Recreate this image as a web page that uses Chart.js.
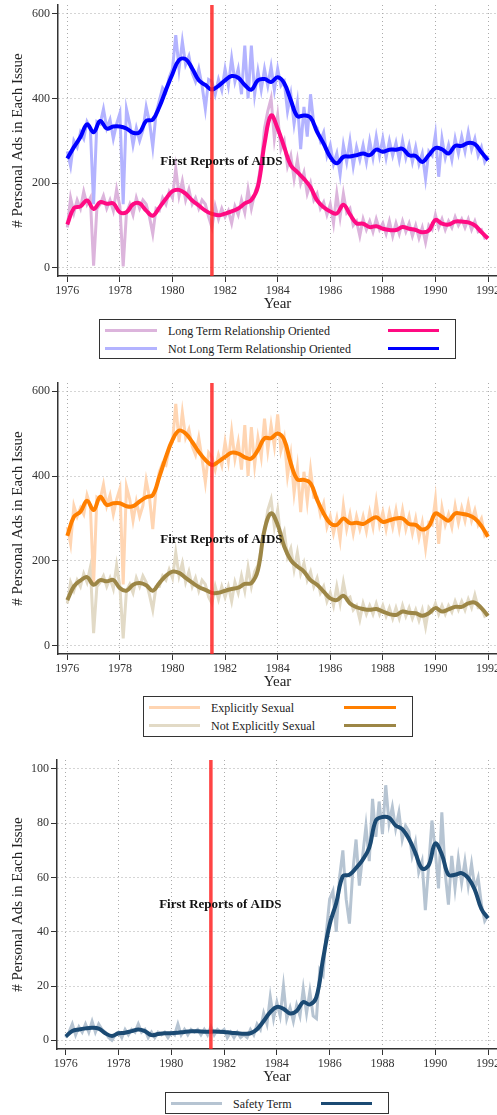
<!DOCTYPE html>
<html><head><meta charset="utf-8">
<script src="https://cdn.jsdelivr.net/npm/chart.js@4/dist/chart.umd.min.js"></script>
<style>
html,body{margin:0;padding:0;background:#fff;}
#wrap{position:relative;width:497px;height:1115px;overflow:hidden;background:#fff;}
canvas{position:absolute;left:0;}
.lgbox{position:absolute;border:1px solid #333;box-sizing:border-box;background:#fff;}
.sw{position:absolute;height:3px;}
.lbl{position:absolute;white-space:nowrap;font-family:"Liberation Serif",serif;font-size:12px;line-height:12px;color:#222;}
</style></head>
<body><div id="wrap">
<canvas id="c1"></canvas><canvas id="c2"></canvas><canvas id="c3"></canvas>
</div>
<script>
// ---------------- data ----------------
const xTickYears = [1976,1978,1980,1982,1984,1986,1988,1990,1992];
const adsTicks = [0,200,400,600];
const safetyTicks = [0,20,40,60,80,100];
const firstYear = 1976;
const rawStep = 1/8;     // issue-level series, 8 readings per year
const smoothStep = 1/4;  // smoothed series, 4 readings per year
const aidsYear = 1981.5;
const aidsText = 'First Reports of AIDS';
const yTitle = '# Personal Ads in Each Issue';
const xTitle = 'Year';

const ltrRaw = [
95,165,130,160,140,180,150,165,
5,140,150,170,140,160,135,185,
145,3,130,150,125,165,140,160,
150,120,80,140,135,165,150,180,
165,235,170,205,160,185,150,165,
140,160,150,120,95,145,115,140,
120,135,105,145,125,160,130,185,
140,175,200,250,330,370,400,305,
360,280,300,240,265,210,255,200,
225,175,200,160,175,140,155,125,
150,105,175,120,175,130,140,100,
110,75,115,90,110,85,115,90,
105,80,110,75,105,80,110,85,
105,75,100,70,95,60,100,90,
125,95,115,90,110,95,120,100,
115,95,115,90,110,85,90,70,
75];
const notLtrRaw = [
275,240,300,285,320,305,345,330,
150,345,340,375,330,350,305,340,
365,150,375,340,290,330,300,325,
380,345,285,365,395,425,415,450,
470,550,470,535,480,500,460,440,
470,430,375,445,440,410,445,420,
470,430,495,440,470,410,525,400,
525,410,465,420,470,430,475,420,
470,430,440,370,410,340,390,280,
380,310,410,340,330,300,320,265,
290,245,270,220,290,250,300,240,
285,255,290,250,300,260,310,265,
305,260,300,265,295,255,300,260,
290,250,285,245,270,210,275,265,
315,215,305,260,290,255,305,270,
310,275,320,280,305,265,285,250,
265];
const ltrSmooth = [
102,141,145,159,
139,155,151,152,
131,131,150,152,
135,123,142,163,
181,184,175,159,
147,135,127,124,
128,133,140,152,
160,192,293,360,
329,285,242,226,
210,190,159,143,
133,128,149,126,
105,104,96,98,
92,89,89,96,
92,89,84,88,
113,104,102,109,
109,107,100,84,
69];
const notLtrSmooth = [
258,285,309,339,
320,347,329,334,
334,329,319,320,
347,350,380,420,
458,491,493,471,
443,432,421,430,
443,453,449,432,
421,443,446,439,
450,436,396,358,
360,355,321,293,
262,247,262,263,
266,270,266,279,
274,279,279,281,
266,264,250,266,
283,280,270,288,
288,295,292,273,
254];

const sexRaw = [
280,240,330,305,325,310,355,330,
145,350,345,380,330,355,310,345,
370,145,375,345,295,340,305,330,
390,350,275,370,410,430,425,465,
480,570,480,550,490,510,470,450,
490,440,385,455,445,415,450,425,
480,435,505,440,480,415,520,400,
515,425,490,445,535,460,520,470,
545,460,490,400,450,360,420,315,
410,340,415,350,350,310,335,280,
305,265,300,250,330,275,310,265,
305,275,305,270,315,280,340,285,
315,275,315,280,320,275,320,275,
305,265,300,255,290,230,290,285,
345,240,325,285,310,280,330,290,
325,295,335,295,320,285,300,260,
270];
const notSexRaw = [
100,150,130,155,140,170,150,185,
30,140,150,165,140,160,135,190,
140,18,130,145,125,160,140,165,
150,120,85,140,140,165,155,180,
160,220,165,195,150,175,140,160,
130,155,145,115,100,140,110,140,
115,140,105,150,125,165,130,185,
140,175,190,230,270,320,345,280,
320,250,270,210,230,180,220,170,
195,155,175,140,160,125,140,105,
125,95,140,100,150,110,115,85,
95,62,100,75,95,75,100,75,
95,70,90,65,90,65,95,70,
90,65,85,60,85,45,90,80,
100,75,95,75,95,80,105,85,
105,85,110,90,120,90,90,70,
75];
const sexSmooth = [
259,304,316,342,
320,351,332,336,
336,329,329,340,
350,355,398,445,
485,507,500,480,
457,438,426,434,
445,455,453,444,
441,461,489,489,
500,485,430,392,
391,383,344,312,
289,285,300,289,
290,287,296,303,
292,296,300,300,
287,285,274,282,
312,304,295,312,
311,308,300,282,
257];
const notSexSmooth = [
108,140,154,162,
144,155,152,155,
136,130,144,148,
143,130,148,165,
175,172,160,149,
139,132,125,125,
130,134,137,146,
148,179,273,312,
285,234,202,187,
175,155,144,128,
112,108,118,100,
91,87,85,87,
81,75,73,81,
78,77,71,77,
89,81,86,92,
92,100,102,89,
71];

const safetyRaw = [
1,3,6,2,5,3,6,3,
7,3,6,4,3,1,0,2,
3,1,4,2,4,3,6,3,
4,1,3,1,3,2,3,1,
3,2,6,2,4,2,4,3,
4,2,4,2,5,2,4,3,
4,1,3,1,3,1,2,1,
4,2,6,4,10,6,16,8,
14,9,20,8,12,7,13,9,
19,10,18,9,8,26,24,40,
52,55,40,60,70,52,43,62,
74,57,68,79,66,89,75,88,
76,94,80,86,78,84,74,79,
77,68,73,62,66,48,64,81,
70,56,84,62,50,68,56,67,
58,66,57,65,56,60,50,44,
46];
const safetySmooth = [
1.4,3.4,4.0,4.4,
4.6,4.3,2.6,1.6,
2.6,2.8,3.4,4.0,
3.4,1.9,2.3,2.6,
2.6,2.8,3.1,3.3,
3.3,3.2,3.2,3.2,
3.1,2.8,2.6,2.4,
2.6,4.1,7.1,10.4,
12.3,11.6,9.9,10.8,
14.1,13.2,16,30,
42.7,50.6,60.5,61,
63.5,66.5,71,81,
82.3,82,79.2,77.8,
74.3,69,63.3,64.5,
72.5,68.5,61,61,
61.6,59.8,55.5,48.4,
45];

// ---------------- layout / styling ----------------
const FONT = '"Liberation Serif", "DejaVu Serif", serif';
const CANVAS_W = 530;
const VIEW_W = 497;

const panels = [
  {id:'c1', canvasTop:0, canvasH:318, areaTop:5, areaBottom:276, areaLeft:58,
   xMin:1975.646, xMax:1992.342, yMin:-19.6, yMax:621, yTicks:adsTicks,
   labelAt:{x:1981.86, y:250}, titlePad:9.5,
   series:[
     {label:'Long Term Relationship Oriented', raw:ltrRaw, smooth:ltrSmooth, rawColor:'#dcb4dc', color:'#ff0a82'},
     {label:'Not Long Term Relationship Oriented', raw:notLtrRaw, smooth:notLtrSmooth, rawColor:'#b3b3ff', color:'#0000ff'}],
   legend:{left:99, top:319, width:357, height:40, rows:[330,348.7], raw:[105,157], text:168, smooth:[388,439]}},
  {id:'c2', canvasTop:370, canvasH:326, areaTop:383, areaBottom:654, areaLeft:58,
   xMin:1975.646, xMax:1992.342, yMin:-19, yMax:619, yTicks:adsTicks,
   labelAt:{x:1981.86, y:250}, titlePad:9.5,
   series:[
     {label:'Explicitly Sexual', raw:sexRaw, smooth:sexSmooth, rawColor:'#ffd5b2', color:'#ff7f00'},
     {label:'Not Explicitly Sexual', raw:notSexRaw, smooth:notSexSmooth, rawColor:'#e2dac6', color:'#9c8646'}],
   legend:{left:143, top:696, width:270, height:41, rows:[707.3,725.7], raw:[149,200], text:211, smooth:[344,396]}},
  {id:'c3', canvasTop:745, canvasH:346, areaTop:760, areaBottom:1049, areaLeft:57,
   xMin:1975.67, xMax:1992.34, yMin:-3.2, yMax:103.3, yTicks:safetyTicks,
   labelAt:{x:1981.86, y:50}, titlePad:9,
   series:[
     {label:'Safety Term', raw:safetyRaw, smooth:safetySmooth, rawColor:'#b6c4d2', color:'#1b4a73'}],
   legend:{left:165, top:1092, width:224, height:22, rows:[1103.3], raw:[171,222], text:233, smooth:[321,372]}}
];

function toPoints(values, step){ return values.map((v,i)=>({x: firstYear + i*step, y: v})); }

const aidsLabelPlugin = {
  id:'aidsLabel',
  afterDatasetsDraw(chart, args, opts){
    const {ctx, scales:{x, y}} = chart;
    ctx.save();
    ctx.font = 'bold 13px ' + FONT;
    ctx.fillStyle = '#111';
    ctx.textAlign = 'center';
    ctx.textBaseline = 'middle';
    ctx.fillText(aidsText, x.getPixelForValue(opts.x), y.getPixelForValue(opts.y));
    ctx.restore();
  }
};

const X_SCALE_H = 38;

panels.forEach(p => {
  const cv = document.getElementById(p.id);
  cv.width = CANVAS_W; cv.height = p.canvasH;
  cv.style.top = p.canvasTop + 'px';
  const padTop = p.areaTop - p.canvasTop;
  const padBottom = p.canvasTop + p.canvasH - p.areaBottom - X_SCALE_H;
  const datasets = [];
  p.series.forEach(s => datasets.push({data: toPoints(s.raw, rawStep), borderColor: s.rawColor, borderWidth: 3, pointRadius: 0, tension: 0, order: 3}));
  p.series.forEach(s => datasets.push({data: toPoints(s.smooth, smoothStep), borderColor: s.color, borderWidth: 4, pointRadius: 0, tension: 0.4, order: 2}));
  datasets.push({data: [{x: aidsYear, y: p.yMin}, {x: aidsYear, y: p.yMax}], borderColor: 'rgba(255,35,35,0.85)', borderWidth: 3.5, pointRadius: 0, order: 1});

  new Chart(cv, {
    type: 'line',
    data: {datasets},
    options: {
      responsive: false, animation: false, devicePixelRatio: 1,
      layout: {padding: {left: 0, right: CANVAS_W - VIEW_W, top: padTop, bottom: padBottom}},
      plugins: {legend: {display: false}, tooltip: {enabled: false}, aidsLabel: p.labelAt},
      scales: {
        x: {
          type: 'linear', min: p.xMin, max: p.xMax,
          afterBuildTicks: sc => { sc.ticks = xTickYears.map(v => ({value: v})); },
          afterFit: sc => { sc.height = X_SCALE_H; sc.paddingLeft = 0; sc.paddingRight = 0; },
          ticks: {autoSkip: false, maxRotation: 0, padding: 2, color: '#333', font: {family: FONT, size: 12}, callback: v => String(v)},
          grid: {color: '#ababab', lineWidth: 1, tickLength: 6, tickColor: '#333', tickWidth: 1, tickBorderDash: []},
          border: {display: true, color: '#333', width: 1.5, dash: [1, 3]},
          title: {display: true, text: xTitle, color: '#222', font: {family: FONT, size: 15}, padding: {top: 0, bottom: 0.5}}
        },
        y: {
          type: 'linear', min: p.yMin, max: p.yMax,
          afterBuildTicks: sc => { sc.ticks = p.yTicks.map(v => ({value: v})); },
          afterFit: sc => { sc.width = p.areaLeft; sc.paddingTop = 0; sc.paddingBottom = 0; },
          ticks: {padding: 2, color: '#333', font: {family: FONT, size: 12}, callback: v => String(v)},
          grid: {color: '#ababab', lineWidth: 1, tickLength: 6, tickColor: '#333', tickWidth: 1, tickBorderDash: []},
          border: {display: true, color: '#333', width: 1.5, dash: [1, 3]},
          title: {display: true, text: yTitle, color: '#222', font: {family: FONT, size: 15}, padding: {top: p.titlePad, bottom: 0}}
        }
      }
    },
    plugins: [aidsLabelPlugin]
  });

  // legend (Stata style: raw sample, label, smoothed sample)
  const wrap = document.getElementById('wrap');
  const L = p.legend;
  const box = document.createElement('div');
  box.className = 'lgbox';
  Object.assign(box.style, {left: L.left + 'px', top: L.top + 'px', width: L.width + 'px', height: L.height + 'px'});
  wrap.appendChild(box);
  p.series.forEach((s, i) => {
    const ry = L.rows[i];
    const a = document.createElement('div'); a.className = 'sw';
    Object.assign(a.style, {left: L.raw[0] + 'px', width: (L.raw[1] - L.raw[0]) + 'px', top: (ry - 1.5) + 'px', background: s.rawColor});
    const b = document.createElement('div'); b.className = 'sw';
    Object.assign(b.style, {left: L.smooth[0] + 'px', width: (L.smooth[1] - L.smooth[0]) + 'px', top: (ry - 1.5) + 'px', background: s.color});
    const t = document.createElement('div'); t.className = 'lbl';
    t.textContent = s.label;
    Object.assign(t.style, {left: L.text + 'px', top: (ry - 5.5) + 'px'});
    wrap.appendChild(a); wrap.appendChild(b); wrap.appendChild(t);
  });
});
</script>
</body></html>
